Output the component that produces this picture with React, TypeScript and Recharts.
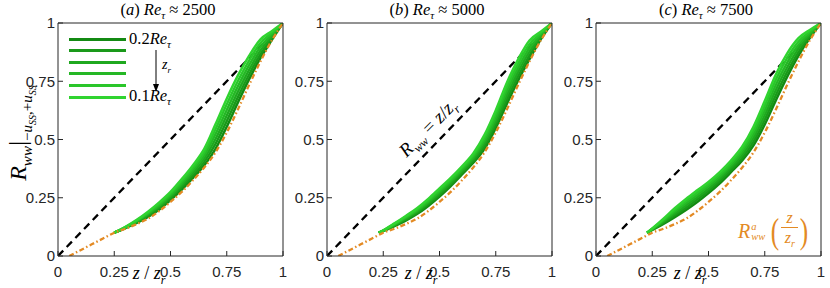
import React from "react";
import { LineChart, Line, XAxis, YAxis } from "recharts";

// axis ticks (same on both axes, all panels)
const TICKS = [0, 0.25, 0.5, 0.75, 1];

// R_ww = z/z_r reference line
const DIAG_Z = [0, 1];
const DIAG_R = [0, 1];

// analytical R^a_ww(z/z_r), same in all panels
const ORANGE_Z = [0.05, 0.1, 0.15, 0.2, 0.25, 0.3, 0.35, 0.4, 0.45, 0.5, 0.55, 0.6, 0.65, 0.7, 0.75, 0.8, 0.85, 0.9, 0.95, 1];
const ORANGE_R = [0, 0.025, 0.05, 0.075, 0.1, 0.117, 0.137, 0.16, 0.193, 0.232, 0.275, 0.325, 0.38, 0.445, 0.53, 0.63, 0.735, 0.835, 0.925, 1];

// z_r from 0.2Re_tau (first) down to 0.1Re_tau (last)
const GREENS = ["#138a13", "#1a991a", "#1fa81f", "#25b725", "#2ac62a", "#30d430"];

// (a) Re_tau ~ 2500
const Z_A = [0.25, 0.3, 0.35, 0.4, 0.45, 0.5, 0.55, 0.6, 0.65, 0.7, 0.75, 0.8, 0.85, 0.9, 0.95, 1];
const A_1 = [0.1, 0.12, 0.142, 0.168, 0.2, 0.24, 0.285, 0.335, 0.39, 0.46, 0.555, 0.66, 0.76, 0.85, 0.927, 1];
const A_2 = [0.1, 0.121, 0.145, 0.172, 0.206, 0.247, 0.294, 0.346, 0.404, 0.481, 0.579, 0.683, 0.78, 0.866, 0.935, 1];
const A_3 = [0.1, 0.122, 0.147, 0.177, 0.212, 0.254, 0.303, 0.357, 0.418, 0.502, 0.603, 0.706, 0.8, 0.882, 0.942, 1];
const A_4 = [0.1, 0.123, 0.15, 0.181, 0.218, 0.261, 0.312, 0.368, 0.432, 0.523, 0.627, 0.729, 0.82, 0.898, 0.95, 1];
const A_5 = [0.1, 0.124, 0.152, 0.186, 0.224, 0.268, 0.321, 0.379, 0.446, 0.544, 0.651, 0.752, 0.84, 0.914, 0.957, 1];
const A_6 = [0.1, 0.125, 0.155, 0.19, 0.23, 0.275, 0.33, 0.39, 0.46, 0.565, 0.675, 0.775, 0.86, 0.93, 0.965, 1];

// (b) Re_tau ~ 5000
const Z_B = [0.23, 0.25, 0.3, 0.35, 0.4, 0.45, 0.5, 0.55, 0.6, 0.65, 0.7, 0.75, 0.8, 0.85, 0.9, 0.95, 1];
const B_1 = [0.1, 0.107, 0.128, 0.152, 0.18, 0.215, 0.255, 0.3, 0.35, 0.4, 0.46, 0.55, 0.655, 0.755, 0.845, 0.93, 1];
const B_2 = [0.1, 0.108, 0.13, 0.156, 0.185, 0.221, 0.262, 0.307, 0.357, 0.408, 0.472, 0.565, 0.673, 0.773, 0.861, 0.936, 1];
const B_3 = [0.1, 0.108, 0.133, 0.16, 0.19, 0.227, 0.269, 0.314, 0.364, 0.416, 0.484, 0.58, 0.691, 0.791, 0.877, 0.943, 1];
const B_4 = [0.1, 0.109, 0.135, 0.164, 0.195, 0.233, 0.276, 0.321, 0.371, 0.424, 0.496, 0.595, 0.709, 0.809, 0.893, 0.949, 1];
const B_5 = [0.1, 0.109, 0.138, 0.168, 0.2, 0.239, 0.283, 0.328, 0.378, 0.432, 0.508, 0.61, 0.727, 0.827, 0.909, 0.956, 1];
const B_6 = [0.1, 0.11, 0.14, 0.172, 0.205, 0.245, 0.29, 0.335, 0.385, 0.44, 0.52, 0.625, 0.745, 0.845, 0.925, 0.962, 1];

// (c) Re_tau ~ 7500
const Z_C = [0.227, 0.25, 0.3, 0.35, 0.4, 0.45, 0.5, 0.55, 0.6, 0.65, 0.7, 0.75, 0.8, 0.85, 0.9, 0.95, 1];
const C_1 = [0.1, 0.112, 0.138, 0.167, 0.198, 0.232, 0.27, 0.312, 0.36, 0.41, 0.475, 0.565, 0.67, 0.77, 0.86, 0.935, 1];
const C_2 = [0.1, 0.113, 0.142, 0.175, 0.207, 0.242, 0.28, 0.322, 0.37, 0.422, 0.491, 0.585, 0.692, 0.79, 0.875, 0.942, 1];
const C_3 = [0.1, 0.114, 0.147, 0.182, 0.217, 0.252, 0.289, 0.331, 0.38, 0.434, 0.507, 0.605, 0.714, 0.81, 0.89, 0.949, 1];
const C_4 = [0.1, 0.116, 0.151, 0.19, 0.226, 0.262, 0.299, 0.341, 0.39, 0.446, 0.523, 0.625, 0.736, 0.83, 0.905, 0.956, 1];
const C_5 = [0.1, 0.117, 0.156, 0.197, 0.236, 0.272, 0.308, 0.35, 0.4, 0.458, 0.539, 0.645, 0.758, 0.85, 0.92, 0.963, 1];
const C_6 = [0.1, 0.118, 0.16, 0.205, 0.245, 0.282, 0.318, 0.36, 0.41, 0.47, 0.555, 0.665, 0.78, 0.87, 0.935, 0.97, 1];

const AX = "#262626";
const ORANGE = "#e38a24";
const SANS = "'Liberation Sans', Arial, sans-serif";
const SERIF = "'Liberation Serif', 'Times New Roman', serif";

const pts = (xs: number[], ys: number[]) => xs.map((x, i) => ({ x, y: ys[i] }));

function Panel({ left, zs, lines }: { left: number; zs: number[]; lines: number[][] }) {
  return (
    <div style={{ position: "absolute", left, top: 0 }}>
      <LineChart width={287} height={288} margin={{ top: 22, right: 0, bottom: 0, left: 0 }} style={{ overflow: "visible" }}>
        <XAxis
          xAxisId="b"
          dataKey="x"
          type="number"
          domain={[0, 1]}
          ticks={TICKS}
          height={32}
          tickSize={-5}
          tickMargin={15}
          stroke={AX}
          tick={{ fill: AX, fontSize: 15, fontFamily: SANS }}
          allowDataOverflow
        />
        <XAxis xAxisId="t" dataKey="x" type="number" orientation="top" domain={[0, 1]} ticks={TICKS} height={1} tickSize={-5} tick={false} stroke={AX} />
        <YAxis
          yAxisId="l"
          type="number"
          domain={[0, 1]}
          ticks={TICKS}
          width={58}
          tickSize={-5}
          tickMargin={8}
          stroke={AX}
          tick={{ fill: AX, fontSize: 15, fontFamily: SANS }}
          allowDataOverflow
        />
        <YAxis yAxisId="r" type="number" orientation="right" domain={[0, 1]} ticks={TICKS} width={4} tickSize={-5} tick={false} stroke={AX} />
        <Line
          xAxisId="b"
          yAxisId="l"
          data={pts(DIAG_Z, DIAG_R)}
          dataKey="y"
          stroke="#000"
          strokeWidth={2.3}
          strokeDasharray="7.5 5"
          dot={false}
          isAnimationActive={false}
        />
        {lines.map((ys, i) => (
          <Line
            key={i}
            xAxisId="b"
            yAxisId="l"
            data={pts(zs, ys)}
            dataKey="y"
            type="monotone"
            stroke={GREENS[i]}
            strokeWidth={2.5}
            dot={false}
            isAnimationActive={false}
          />
        ))}
        <Line
          xAxisId="b"
          yAxisId="l"
          data={pts(ORANGE_Z, ORANGE_R)}
          dataKey="y"
          type="monotone"
          stroke={ORANGE}
          strokeWidth={2.3}
          strokeDasharray="5 2.5 1.5 2.5"
          dot={false}
          isAnimationActive={false}
        />
      </LineChart>
    </div>
  );
}

const abs = (left: number, top: number, extra: React.CSSProperties = {}): React.CSSProperties => ({
  position: "absolute",
  left,
  top,
  whiteSpace: "nowrap",
  fontFamily: SERIF,
  color: "#000",
  ...extra,
});

function Title({ cx, tag, re }: { cx: number; tag: string; re: string }) {
  return (
    <div style={abs(cx - 80, 0, { width: 160, textAlign: "center", fontSize: 16.5, lineHeight: "19px" })}>
      (<i>{tag}</i>) <i>Re</i>
      <sub style={{ fontSize: 11 }}>
        <i>τ</i>
      </sub>{" "}
      ≈ {re}
    </div>
  );
}

function XLabel({ cx }: { cx: number }) {
  return (
    <div style={abs(cx - 30, 264, { width: 60, textAlign: "center", fontSize: 18, lineHeight: "18px" })}>
      <i>z</i> / <i>z</i>
      <sub style={{ fontSize: 12 }}>
        <i>r</i>
      </sub>
    </div>
  );
}

export default function App() {
  const legendY = [39, 50, 62, 73, 85, 97];
  return (
    <div style={{ position: "absolute", left: 0, top: 0, width: 830, height: 288, background: "#fff" }}>
      <Panel left={0} zs={Z_A} lines={[A_1, A_2, A_3, A_4, A_5, A_6]} />
      <Panel left={269} zs={Z_B} lines={[B_1, B_2, B_3, B_4, B_5, B_6]} />
      <Panel left={538} zs={Z_C} lines={[C_1, C_2, C_3, C_4, C_5, C_6]} />

      <Title cx={168} tag="a" re="2500" />
      <Title cx={437} tag="b" re="5000" />
      <Title cx={706} tag="c" re="7500" />

      <XLabel cx={149} />
      <XLabel cx={421} />
      <XLabel cx={690} />

      {/* y label */}
      <div
        style={abs(18 - 80, 133 - 15, {
          width: 160,
          height: 30,
          lineHeight: "30px",
          textAlign: "center",
          fontSize: 24,
          transform: "rotate(-90deg)",
        })}
      >
        <i>R</i>
        <sub style={{ fontSize: 15 }}>
          <i>ww</i>
        </sub>
        <span style={{ fontSize: 26 }}>|</span>
        <sub style={{ fontSize: 15 }}>
          −<i>u</i>
          <sub style={{ fontSize: 10 }}>
            <i>SS</i>
          </sub>
          ,+<i>u</i>
          <sub style={{ fontSize: 10 }}>
            <i>SS</i>
          </sub>
        </sub>
      </div>

      {/* legend in (a) */}
      {legendY.map((y, i) => (
        <div key={i} style={{ position: "absolute", left: 69, top: y - 1.5, width: 57, height: 3, background: GREENS[i] }} />
      ))}
      <div style={abs(129, 30, { fontSize: 16.5, lineHeight: "18px" })}>
        0.2<i>Re</i>
        <sub style={{ fontSize: 11 }}>
          <i>τ</i>
        </sub>
      </div>
      <div style={abs(129, 87, { fontSize: 16.5, lineHeight: "18px" })}>
        0.1<i>Re</i>
        <sub style={{ fontSize: 11 }}>
          <i>τ</i>
        </sub>
      </div>
      <svg style={{ position: "absolute", left: 150, top: 48 }} width={12} height={46}>
        <line x1={6} y1={2} x2={6} y2={38} stroke="#000" strokeWidth={1} />
        <polygon points="3,36 9,36 6,44" fill="#000" />
      </svg>
      <div style={abs(162, 57, { fontSize: 14, lineHeight: "16px" })}>
        <i>z</i>
        <sub style={{ fontSize: 9 }}>
          <i>r</i>
        </sub>
      </div>

      {/* R_ww = z/z_r in (b) */}
      <div
        style={abs(428 - 65, 128 - 12, {
          width: 130,
          height: 24,
          lineHeight: "24px",
          textAlign: "center",
          fontSize: 19,
          transform: "rotate(-45deg)",
        })}
      >
        <i>R</i>
        <sub style={{ fontSize: 12 }}>
          <i>ww</i>
        </sub>{" "}
        = <i>z</i>/<i>z</i>
        <sub style={{ fontSize: 12 }}>
          <i>r</i>
        </sub>
      </div>

      {/* R^a_ww(z/z_r) in (c) */}
      <div style={abs(738, 211, { color: ORANGE, display: "flex", alignItems: "center", height: 40 })}>
        <i style={{ fontSize: 20 }}>R</i>
        <span style={{ display: "inline-flex", flexDirection: "column", fontSize: 10.5, lineHeight: "10px", marginLeft: 1, marginTop: 2 }}>
          <i>a</i>
          <i>ww</i>
        </span>
        <span style={{ fontSize: 36, lineHeight: "40px", marginLeft: 4, transform: "scaleX(0.7)" }}>(</span>
        <span style={{ display: "inline-flex", flexDirection: "column", alignItems: "center", fontSize: 16, lineHeight: "15px" }}>
          <i>z</i>
          <span style={{ width: 17, height: 1, background: ORANGE, margin: "2px 0" }} />
          <span>
            <i>z</i>
            <sub style={{ fontSize: 10 }}>
              <i>r</i>
            </sub>
          </span>
        </span>
        <span style={{ fontSize: 36, lineHeight: "40px", transform: "scaleX(0.7)" }}>)</span>
      </div>
    </div>
  );
}
